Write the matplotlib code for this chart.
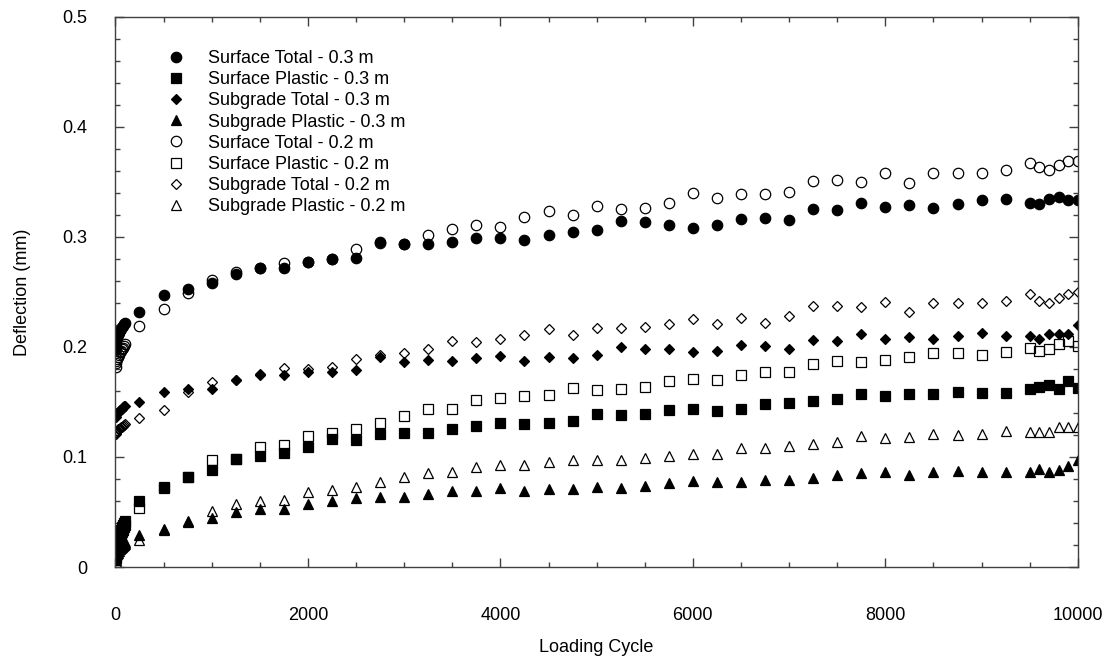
import numpy as np
import matplotlib.pyplot as plt
from matplotlib.ticker import MultipleLocator, FuncFormatter

# loading cycles at which deflection was recorded
cycles = [1, 5, 10, 20, 30, 40, 50, 60, 70, 80, 90, 100,
          250, 500, 750, 1000, 1250, 1500, 1750, 2000, 2250, 2500,
          2750, 3000, 3250, 3500, 3750, 4000, 4250, 4500, 4750, 5000,
          5250, 5500, 5750, 6000, 6250, 6500, 6750, 7000, 7250, 7500,
          7750, 8000, 8250, 8500, 8750, 9000, 9250,
          9500, 9600, 9700, 9800, 9900, 10000]

# deflection (mm), 0.3 m layer
surface_total_03 = [0.198, 0.203, 0.206, 0.209, 0.211, 0.213, 0.215, 0.216, 0.218, 0.219, 0.221, 0.222,
                    0.232, 0.247, 0.253, 0.258, 0.266, 0.272, 0.272, 0.277, 0.280, 0.281,
                    0.295, 0.293, 0.293, 0.295, 0.299, 0.299, 0.297, 0.302, 0.304, 0.306,
                    0.314, 0.313, 0.311, 0.308, 0.311, 0.316, 0.317, 0.315, 0.325, 0.324,
                    0.331, 0.327, 0.329, 0.326, 0.330, 0.333, 0.334,
                    0.331, 0.330, 0.334, 0.336, 0.333, 0.333]
surface_plastic_03 = [0.010, 0.015, 0.018, 0.022, 0.026, 0.029, 0.032, 0.034, 0.036, 0.038, 0.040, 0.042,
                      0.060, 0.073, 0.082, 0.088, 0.098, 0.101, 0.104, 0.109, 0.116, 0.115,
                      0.121, 0.122, 0.122, 0.125, 0.128, 0.131, 0.130, 0.131, 0.133, 0.139,
                      0.138, 0.139, 0.143, 0.144, 0.142, 0.144, 0.148, 0.149, 0.151, 0.153,
                      0.157, 0.155, 0.157, 0.157, 0.159, 0.158, 0.158,
                      0.162, 0.164, 0.165, 0.162, 0.169, 0.163]
subgrade_total_03 = [0.136, 0.138, 0.139, 0.140, 0.141, 0.142, 0.143, 0.143, 0.144, 0.145, 0.146, 0.146,
                     0.150, 0.159, 0.162, 0.162, 0.170, 0.174, 0.174, 0.177, 0.177, 0.179,
                     0.191, 0.186, 0.188, 0.187, 0.190, 0.192, 0.187, 0.191, 0.190, 0.193,
                     0.200, 0.198, 0.198, 0.195, 0.196, 0.202, 0.201, 0.198, 0.206, 0.205,
                     0.212, 0.207, 0.209, 0.207, 0.210, 0.213, 0.210,
                     0.210, 0.207, 0.212, 0.212, 0.212, 0.220]
subgrade_plastic_03 = [0.006, 0.009, 0.011, 0.013, 0.015, 0.017, 0.018, 0.019, 0.020, 0.021, 0.022, 0.023,
                       0.029, 0.035, 0.041, 0.045, 0.050, 0.053, 0.053, 0.057, 0.060, 0.063,
                       0.064, 0.064, 0.066, 0.069, 0.069, 0.072, 0.069, 0.071, 0.071, 0.073,
                       0.072, 0.074, 0.076, 0.078, 0.077, 0.077, 0.079, 0.079, 0.081, 0.084,
                       0.085, 0.086, 0.084, 0.086, 0.087, 0.086, 0.086,
                       0.086, 0.089, 0.086, 0.088, 0.092, 0.097]

# deflection (mm), 0.2 m layer
surface_total_02 = [0.182, 0.185, 0.187, 0.189, 0.191, 0.193, 0.195, 0.196, 0.198, 0.199, 0.201, 0.203,
                    0.219, 0.234, 0.249, 0.261, 0.268, 0.272, 0.276, 0.277, 0.280, 0.289,
                    0.294, 0.293, 0.302, 0.307, 0.311, 0.309, 0.318, 0.323, 0.320, 0.328,
                    0.325, 0.326, 0.331, 0.340, 0.335, 0.339, 0.339, 0.341, 0.351, 0.352,
                    0.350, 0.358, 0.349, 0.358, 0.358, 0.358, 0.361,
                    0.367, 0.363, 0.361, 0.365, 0.369, 0.369]
surface_plastic_02 = [0.008, 0.012, 0.015, 0.019, 0.022, 0.025, 0.028, 0.030, 0.032, 0.034, 0.036, 0.038,
                      0.054, 0.072, 0.082, 0.097, 0.098, 0.109, 0.111, 0.119, 0.122, 0.125,
                      0.131, 0.137, 0.144, 0.144, 0.152, 0.154, 0.155, 0.156, 0.163, 0.161,
                      0.162, 0.164, 0.169, 0.171, 0.170, 0.174, 0.177, 0.177, 0.184, 0.187,
                      0.186, 0.188, 0.191, 0.194, 0.194, 0.193, 0.195,
                      0.199, 0.196, 0.198, 0.203, 0.205, 0.201]
subgrade_total_02 = [0.121, 0.122, 0.123, 0.124, 0.125, 0.125, 0.126, 0.127, 0.127, 0.128, 0.129, 0.130,
                     0.135, 0.143, 0.159, 0.168, 0.170, 0.175, 0.181, 0.180, 0.182, 0.189,
                     0.193, 0.194, 0.198, 0.205, 0.204, 0.207, 0.211, 0.216, 0.211, 0.217,
                     0.217, 0.218, 0.221, 0.225, 0.221, 0.226, 0.222, 0.228, 0.237, 0.237,
                     0.236, 0.241, 0.232, 0.240, 0.240, 0.240, 0.242,
                     0.248, 0.242, 0.240, 0.244, 0.248, 0.250]
subgrade_plastic_02 = [0.005, 0.008, 0.010, 0.012, 0.013, 0.015, 0.016, 0.017, 0.018, 0.019, 0.020, 0.021,
                       0.025, 0.034, 0.042, 0.051, 0.057, 0.060, 0.061, 0.068, 0.070, 0.073,
                       0.077, 0.082, 0.085, 0.086, 0.091, 0.093, 0.093, 0.095, 0.097, 0.097,
                       0.097, 0.099, 0.101, 0.103, 0.103, 0.108, 0.108, 0.110, 0.112, 0.114,
                       0.119, 0.117, 0.118, 0.121, 0.120, 0.121, 0.124,
                       0.123, 0.123, 0.123, 0.127, 0.127, 0.127]

series = [
    ('Surface Total - 0.3 m', surface_total_03, 'o', True),
    ('Surface Plastic - 0.3 m', surface_plastic_03, 's', True),
    ('Subgrade Total - 0.3 m', subgrade_total_03, 'D', True),
    ('Subgrade Plastic - 0.3 m', subgrade_plastic_03, '^', True),
    ('Surface Total - 0.2 m', surface_total_02, 'o', False),
    ('Surface Plastic - 0.2 m', surface_plastic_02, 's', False),
    ('Subgrade Total - 0.2 m', subgrade_total_02, 'D', False),
    ('Subgrade Plastic - 0.2 m', subgrade_plastic_02, '^', False),
]
sizes = {'o': 7.5, 's': 7.5, 'D': 5.2, '^': 7.5}

plt.rcParams['font.family'] = ['Liberation Sans', 'DejaVu Sans']

fig = plt.figure(figsize=(11.1, 6.64), dpi=100)
ax = fig.add_axes([0.104, 0.146, 0.867, 0.829])

for label, vals, mk, filled in series:
    ax.plot(cycles, vals, linestyle='none', marker=mk, markersize=sizes[mk],
            markerfacecolor='black' if filled else 'none', markeredgecolor='black',
            markeredgewidth=0.9, label=label)

ax.set_xlim(0, 10000)
ax.set_ylim(0, 0.5)
ax.xaxis.set_major_locator(MultipleLocator(2000))
ax.xaxis.set_minor_locator(MultipleLocator(500))
ax.yaxis.set_major_locator(MultipleLocator(0.1))
ax.yaxis.set_minor_locator(MultipleLocator(0.02))
ax.yaxis.set_major_formatter(FuncFormatter(lambda v, p: '%g' % round(v, 3)))

for s in ax.spines.values():
    s.set_color('#404040')
    s.set_linewidth(1.0)
ax.tick_params(which='both', direction='in', top=True, right=True, color='#404040', labelsize=13)
ax.tick_params(which='major', length=6.5, width=1.0)
ax.tick_params(which='minor', length=3.3, width=1.0)
ax.tick_params(axis='y', pad=20)
ax.tick_params(axis='x', pad=29)

ax.set_xlabel('Loading Cycle', fontsize=13, va='center')
ax.set_ylabel('Deflection (mm)', fontsize=13, va='center')
ax.xaxis.set_label_coords(0.5, -0.147)
ax.yaxis.set_label_coords(-0.097, 0.5)

ax.legend(loc='upper left', bbox_to_anchor=(0.044, 0.939), frameon=False, fontsize=13,
          numpoints=1, borderpad=0, borderaxespad=0, labelspacing=0.23,
          handlelength=2.0, handletextpad=0.8)

fig.savefig('out.png', dpi=100)
